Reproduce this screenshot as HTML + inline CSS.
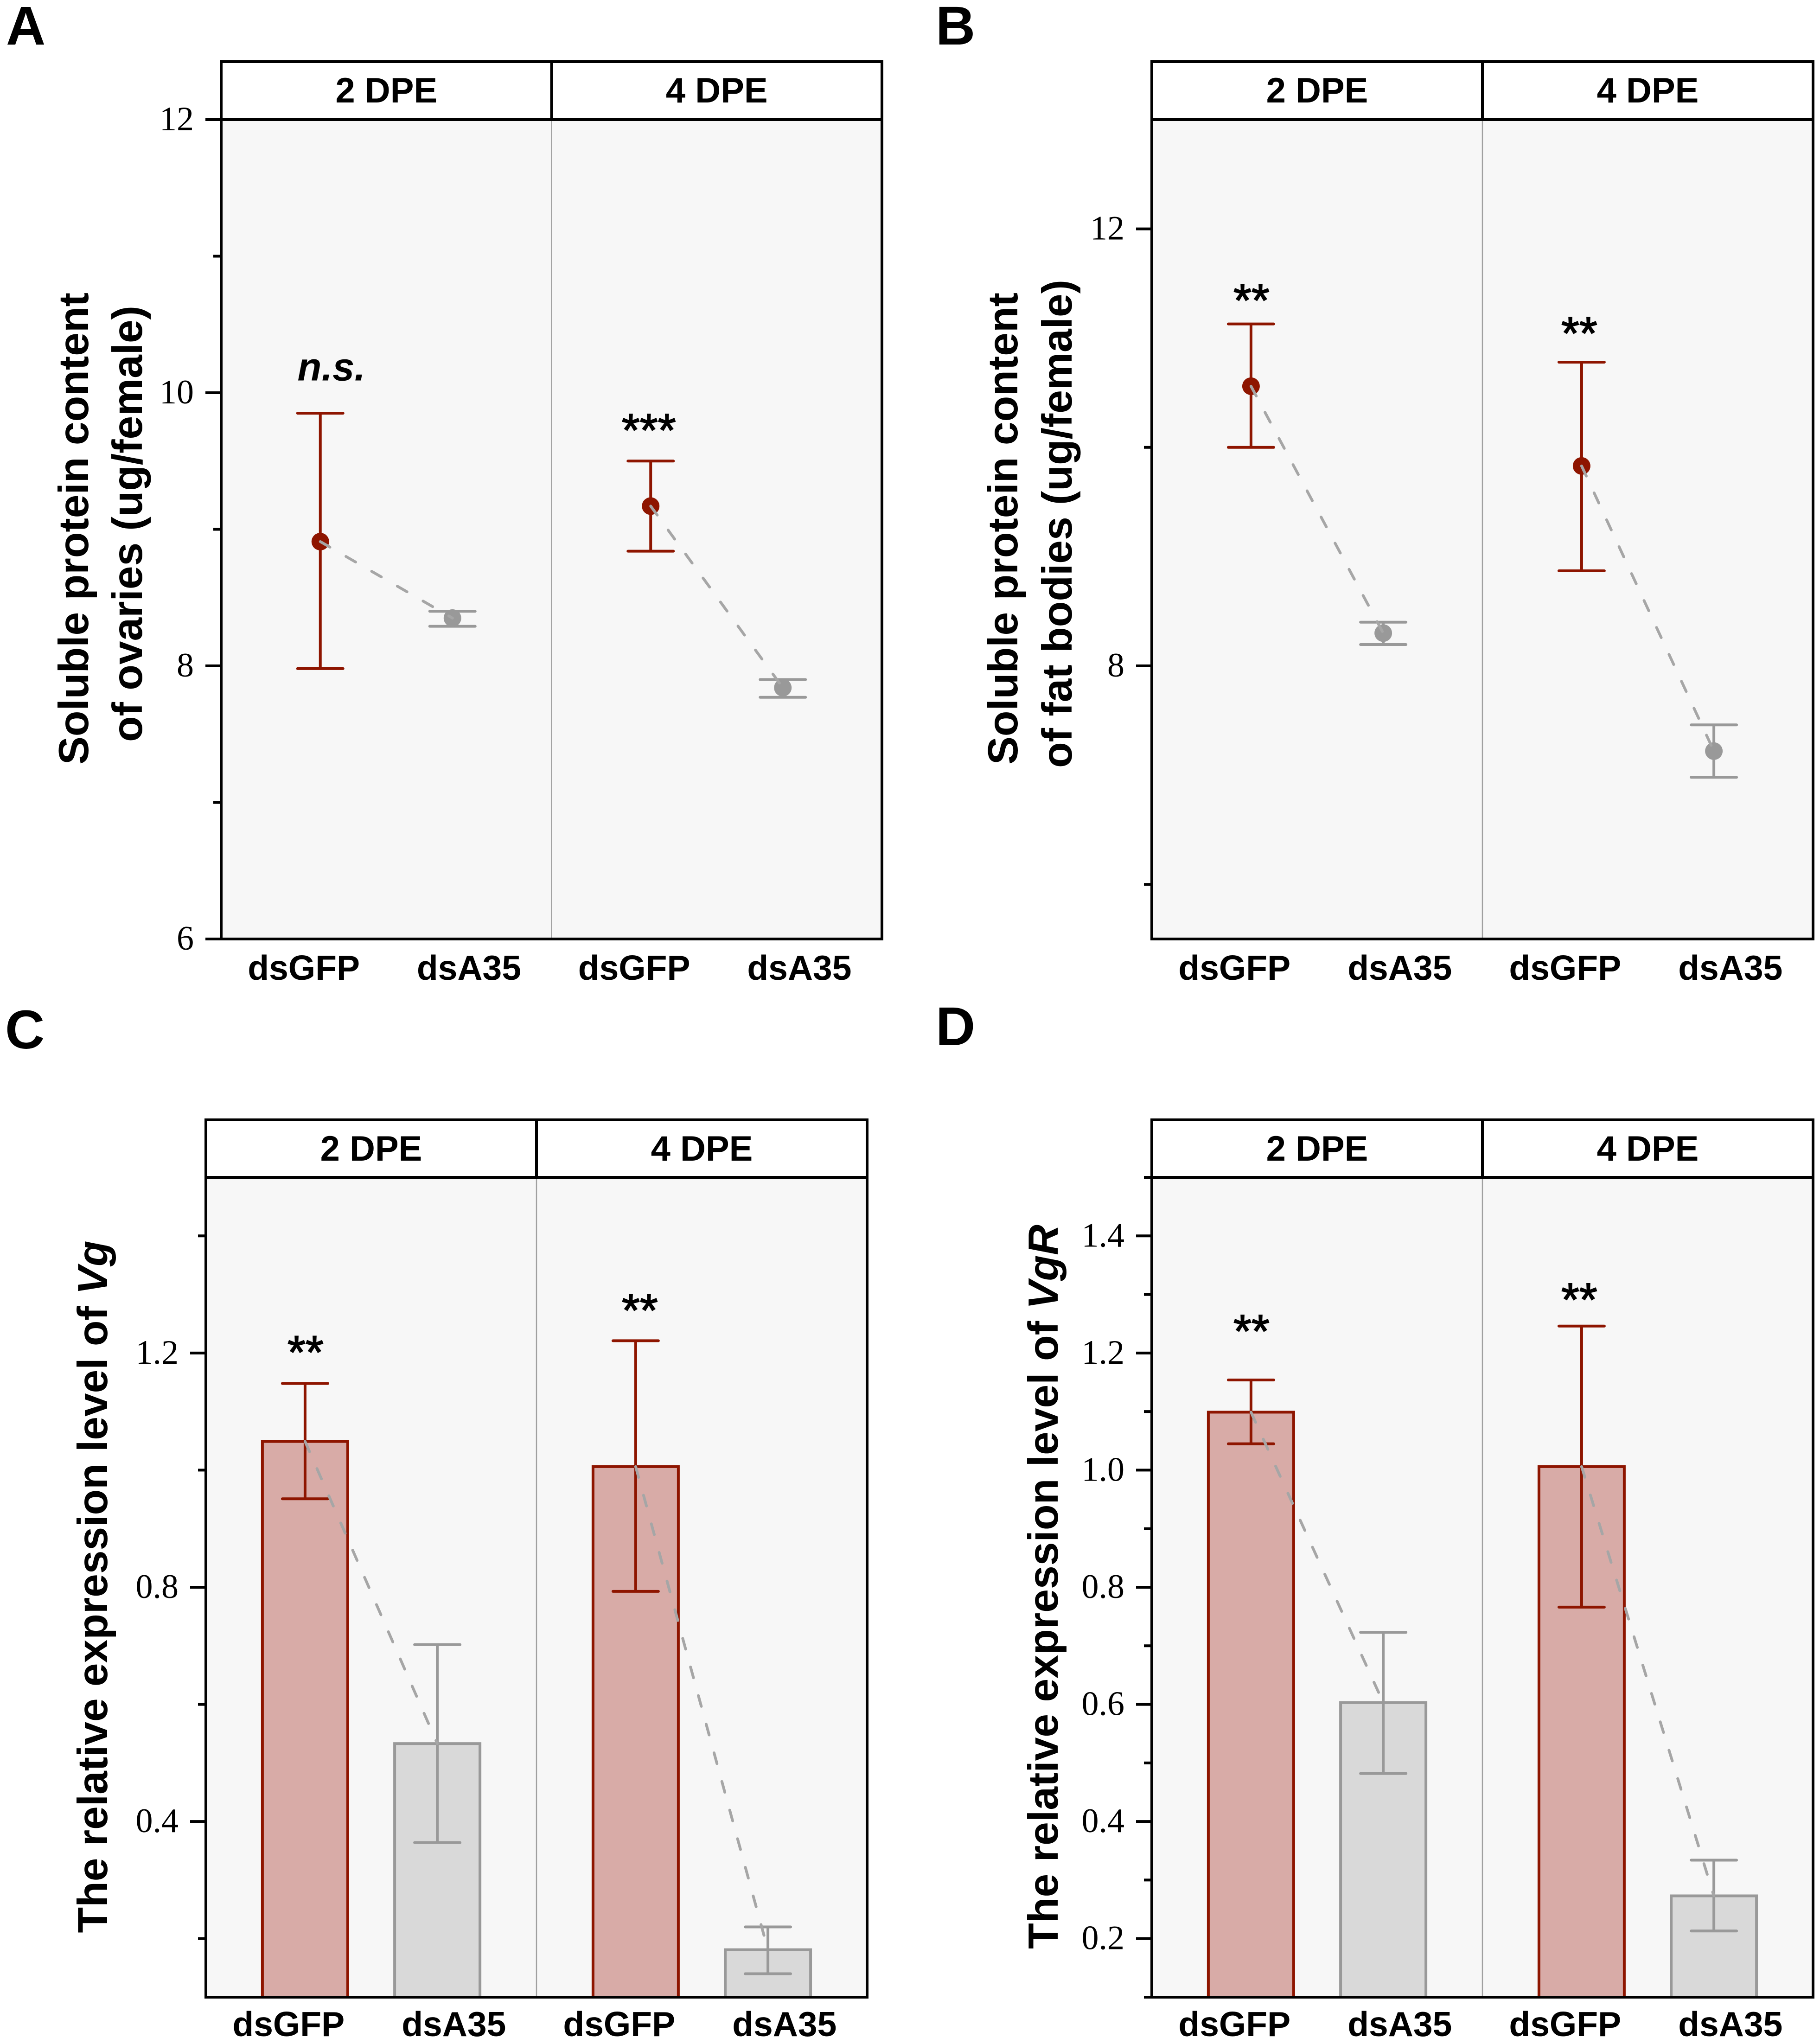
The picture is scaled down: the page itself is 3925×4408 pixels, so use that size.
<!DOCTYPE html>
<html lang="en">
<head>
<meta charset="utf-8">
<title>Soluble protein and expression levels</title>
<style>
html,body{margin:0;padding:0;background:#fff;}
svg{display:block;}
text{font-family:"Liberation Sans",Arial,sans-serif;fill:#000;}
.bold{font-weight:bold;}
</style>
</head>
<body>
<svg id="figure" xmlns="http://www.w3.org/2000/svg" width="3925" height="4408" viewBox="0 0 3925 4408">
<rect x="0" y="0" width="3925" height="4408" fill="#ffffff"/>
<text class="bold" x="13" y="96" font-size="118">A</text>
<text class="bold" x="2018" y="96" font-size="118">B</text>
<text class="bold" x="11" y="2261" font-size="118">C</text>
<text class="bold" x="2018" y="2254" font-size="118">D</text>
<text class="bold" font-size="91" text-anchor="middle" textLength="1018" lengthAdjust="spacingAndGlyphs" transform="translate(190,1140) rotate(-90)">Soluble protein content</text>
<text class="bold" font-size="91" text-anchor="middle" textLength="941" lengthAdjust="spacingAndGlyphs" transform="translate(306,1129.5) rotate(-90)">of ovaries (ug/female)</text>
<text class="bold" font-size="91" text-anchor="middle" textLength="1018" lengthAdjust="spacingAndGlyphs" transform="translate(2194,1140) rotate(-90)">Soluble protein content</text>
<text class="bold" font-size="91" text-anchor="middle" textLength="1053" lengthAdjust="spacingAndGlyphs" transform="translate(2311,1129.5) rotate(-90)">of fat bodies (ug/female)</text>
<text class="bold" font-size="91" text-anchor="middle" textLength="1493" lengthAdjust="spacingAndGlyphs" transform="translate(231,3422) rotate(-90)">The relative expression level of <tspan font-style="italic">Vg</tspan></text>
<text class="bold" font-size="91" text-anchor="middle" textLength="1562" lengthAdjust="spacingAndGlyphs" transform="translate(2281,3422) rotate(-90)">The relative expression level of <tspan font-style="italic">VgR</tspan></text>
</svg>
<script>
// Shared categories
const facets = ['2 DPE', '4 DPE'];
const categories = ['dsGFP', 'dsA35'];

// Panel A: soluble protein content of ovaries (per facet, per category)
const aMeans = [[8.91, 8.35], [9.17, 7.84]];
const aUppers = [[9.85, 8.40], [9.50, 7.90]];
const aLowers = [[7.98, 8.29], [8.84, 7.77]];
const aSigLabels = ['n.s.', '***'];
const aSigValues = [10.09, 9.61];
const aDomain = [6, 12];
const aMajorTicks = [6, 8, 10, 12];
const aMajorLabels = ['6', '8', '10', '12'];
const aMinorTicks = [7, 9, 11];

// Panel B: soluble protein content of fat bodies
const bMeans = [[10.56, 8.30], [9.83, 7.22]];
const bUppers = [[11.13, 8.40], [10.78, 7.46]];
const bLowers = [[10.00, 8.195], [8.87, 6.98]];
const bSigLabels = ['**', '**'];
const bSigValues = [11.20, 10.90];
const bDomain = [5.5, 13];
const bMajorTicks = [8, 12];
const bMajorLabels = ['8', '12'];
const bMinorTicks = [6, 10];

// Panel C: relative expression of Vg
const cMeans = [[1.049, 0.533], [1.006, 0.181]];
const cUppers = [[1.148, 0.702], [1.221, 0.220]];
const cLowers = [[0.951, 0.364], [0.793, 0.140]];
const cSigLabels = ['**', '**'];
const cSigValues = [1.174, 1.246];
const cDomain = [0.1, 1.5];
const cMajorTicks = [0.4, 0.8, 1.2];
const cMajorLabels = ['0.4', '0.8', '1.2'];
const cMinorTicks = [0.2, 0.6, 1.0, 1.4];

// Panel D: relative expression of VgR
const dMeans = [[1.099, 0.603], [1.006, 0.273]];
const dUppers = [[1.154, 0.723], [1.246, 0.334]];
const dLowers = [[1.045, 0.482], [0.766, 0.213]];
const dSigLabels = ['**', '**'];
const dSigValues = [1.210, 1.264];
const dDomain = [0.1, 1.5];
const dMajorTicks = [0.2, 0.4, 0.6, 0.8, 1.0, 1.2, 1.4];
const dMajorLabels = ['0.2', '0.4', '0.6', '0.8', '1.0', '1.2', '1.4'];
const dMinorTicks = [0.1, 0.3, 0.5, 0.7, 0.9, 1.1, 1.3, 1.5];

const SVGNS = 'http://www.w3.org/2000/svg';
const RED = '#8e1500';
const GREY = '#999999';
const fig = document.getElementById('figure');

function make(tag, parent, attrs, content) {
  const el = document.createElementNS(SVGNS, tag);
  for (const k in attrs) el.setAttribute(k, attrs[k]);
  if (content !== undefined) el.textContent = content;
  parent.appendChild(el);
  return el;
}

function drawPanel(p) {
  const g = make('g', fig, {});
  
  

  const facetW = (p.right - p.left) / 2;
  const y = v => p.bottom - (v - p.domain[0]) / (p.domain[1] - p.domain[0]) * (p.bottom - p.stripBottom);
  const x = (f, c) => p.left + facetW * (f + 0.3 + 0.4 * c);
  const labelX = (f, c) => p.left + facetW * (f + 0.25 + 0.5 * c);

  const bg = make('rect', g, {x: p.left, y: p.stripBottom, width: p.right - p.left, height: p.bottom - p.stripBottom, fill: '#f7f7f7'});
  
  

  const sep = make('line', g, {x1: p.left + facetW, x2: p.left + facetW, y1: p.stripBottom, y2: p.bottom, stroke: '#a0a0a0', 'stroke-width': 2.5});
  
  

  facets.forEach((facet, f) => {
    if (p.bars) {
      categories.forEach((cat, c) => {
        const col = c === 0 ? RED : GREY;
        const bar = make('rect', g, {x: x(f, c) - 92, y: y(p.means[f][c]), width: 184, height: p.bottom - y(p.means[f][c]), fill: c === 0 ? '#d8aba7' : '#d9d9d9', stroke: col, 'stroke-width': 6});
        
        
      });
    }
    categories.forEach((cat, c) => {
      const col = c === 0 ? RED : GREY;
      const cx = x(f, c);
      const err = make('path', g, {
        d: 'M' + (cx - 49) + ' ' + y(p.uppers[f][c]) + 'H' + (cx + 49) +
           'M' + cx + ' ' + y(p.uppers[f][c]) + 'V' + y(p.lowers[f][c]) +
           'M' + (cx - 49) + ' ' + y(p.lowers[f][c]) + 'H' + (cx + 49),
        fill: 'none', stroke: col, 'stroke-width': 6, 'stroke-linecap': 'round'});
      
      
      if (!p.bars) {
        const pt = make('circle', g, {cx: cx, cy: y(p.means[f][c]), r: 19, fill: col});
        
        
      }
    });
    const conn = make('line', g, {x1: x(f, 0), y1: y(p.means[f][0]), x2: x(f, 1), y2: y(p.means[f][1]), stroke: '#a6a6a6', 'stroke-width': 6, 'stroke-linecap': 'round', 'stroke-dasharray': '24 40'});
    
    

    const isNs = p.sigLabels[f] === 'n.s.';
    const sig = make('text', g, {x: x(f, 0) + p.sigDx[f], y: y(p.sigValues[f]), 'text-anchor': 'middle', 'font-size': isNs ? 85 : 100, 'font-weight': isNs ? 'bold' : 'normal', 'font-style': isNs ? 'italic' : 'normal', stroke: '#000', 'stroke-width': isNs ? 0 : 2}, p.sigLabels[f]);
    
    

    const strip = make('text', g, {x: p.left + facetW * (f + 0.5), y: p.top + 88, 'text-anchor': 'middle', 'font-size': 76, 'font-weight': 'bold'}, facet);
    
    

    categories.forEach((cat, c) => {
      const lab = make('text', g, {x: labelX(f, c), y: p.bottom + p.xLabelOffset, 'text-anchor': 'middle', 'font-size': 75, 'font-weight': 'bold'}, cat);
      
      
    });
  });

  p.minor.forEach(v => {
    const t = make('line', g, {x1: p.left - 17, x2: p.left, y1: y(v), y2: y(v), stroke: '#000', 'stroke-width': 6});
    
    
  });
  p.major.forEach((v, i) => {
    const t = make('line', g, {x1: p.left - 34, x2: p.left, y1: y(v), y2: y(v), stroke: '#000', 'stroke-width': 6});
    
    
    const lab = make('text', g, {x: p.left - 59, y: y(v) + 23, 'text-anchor': 'end', 'font-size': 74, style: 'font-family:"Liberation Serif",serif'}, p.majorLabels[i]);
    
    
  });

  const frame = make('path', g, {
    d: 'M' + p.left + ' ' + p.bottom + 'V' + p.top + 'H' + p.right + 'V' + p.bottom + 'Z' +
       'M' + p.left + ' ' + p.stripBottom + 'H' + p.right +
       'M' + (p.left + facetW) + ' ' + p.top + 'V' + p.stripBottom,
    fill: 'none', stroke: '#000', 'stroke-width': 6, 'stroke-linejoin': 'miter'});
  
  
}

drawPanel({id: 'a', bars: false, left: 477, right: 1902, top: 133, stripBottom: 258, bottom: 2025, xLabelOffset: 88, sigDx: [24, -4],
  domain: aDomain, means: aMeans, uppers: aUppers, lowers: aLowers, sigLabels: aSigLabels, sigValues: aSigValues,
  major: aMajorTicks, majorLabels: aMajorLabels, minor: aMinorTicks});
drawPanel({id: 'b', bars: false, left: 2484, right: 3910, top: 133, stripBottom: 258, bottom: 2025, xLabelOffset: 88, sigDx: [1, -5],
  domain: bDomain, means: bMeans, uppers: bUppers, lowers: bLowers, sigLabels: bSigLabels, sigValues: bSigValues,
  major: bMajorTicks, majorLabels: bMajorLabels, minor: bMinorTicks});
drawPanel({id: 'c', bars: true, left: 444, right: 1870, top: 2415, stripBottom: 2539, bottom: 4307, xLabelOffset: 84, sigDx: [1, 9],
  domain: cDomain, means: cMeans, uppers: cUppers, lowers: cLowers, sigLabels: cSigLabels, sigValues: cSigValues,
  major: cMajorTicks, majorLabels: cMajorLabels, minor: cMinorTicks});
drawPanel({id: 'd', bars: true, left: 2484, right: 3910, top: 2415, stripBottom: 2539, bottom: 4307, xLabelOffset: 84, sigDx: [1, -5],
  domain: dDomain, means: dMeans, uppers: dUppers, lowers: dLowers, sigLabels: dSigLabels, sigValues: dSigValues,
  major: dMajorTicks, majorLabels: dMajorLabels, minor: dMinorTicks});
</script>
</body>
</html>
